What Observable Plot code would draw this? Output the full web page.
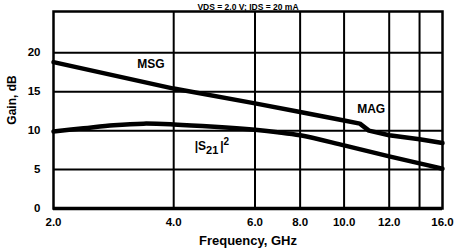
<!DOCTYPE html>
<html><head><meta charset="utf-8">
<script src="https://cdn.jsdelivr.net/npm/d3@7"></script>
<script src="https://cdn.jsdelivr.net/npm/@observablehq/plot@0.6"></script>
<style>
body{margin:0;background:#fff;}
#chart svg{display:block;}
</style>
</head><body><div id="chart"></div>
<script>
const subtitle = "VDS = 2.0 V; IDS = 20 mA";
const xLabel = "Frequency, GHz";
const yLabel = "Gain, dB";
const xTicks = [2, 4, 6, 8, 10, 12, 16];
const xGrid = [4, 6, 8, 10, 12, 14];
const xBreaks = [2, 4, 6, 8, 10, 12, 14, 16];
const xBreakFrac = [0, 0.309, 0.518, 0.634, 0.747, 0.863, 0.941, 1];
const yTicks = [0, 5, 10, 15, 20];
const yGrid = [5, 10, 15, 20];
const msgFreq = [2, 4, 6, 8, 10, 10.7, 11.1, 12, 14, 16];
const msgGain = [18.8, 15.4, 13.5, 12.4, 11.3, 10.9, 10.0, 9.4, 8.9, 8.4];
const s21Freq = [2, 2.5, 3, 3.5, 4, 5, 6, 7, 8, 10, 12, 14, 16];
const s21Gain = [9.9, 10.3, 10.7, 10.9, 10.8, 10.5, 10.1, 9.8, 9.4, 8.1, 6.7, 5.8, 5.1];
const labelText = ["MSG", "MAG", "|S21|2"];
const labelFreq = [3.62, 11.2, 4.94];
const labelGain = [18.5, 12.8, 7.95];

const W = 454, H = 251, mL = 53, mR = 12, mT = 11, mB = 43;
const msg = msgFreq.map((f, i) => ({f, g: msgGain[i]}));
const s21 = s21Freq.map((f, i) => ({f, g: s21Gain[i]}));
const labels = labelText.map((t, i) => ({t, f: labelFreq[i], g: labelGain[i]}));
const font = "'Liberation Sans', Arial, sans-serif";

const chart = Plot.plot({
  width: W, height: H,
  marginLeft: mL, marginRight: mR, marginTop: mT, marginBottom: mB,
  style: {fontFamily: font, background: "#fff", color: "#000"},
  x: {type: "linear", domain: xBreaks, range: xBreakFrac.map(p => mL + p * (W - mL - mR))},
  y: {domain: [0, 25.3]},
  marks: [
    Plot.ruleX(xGrid, {stroke: "#000", strokeWidth: 2}),
    Plot.ruleY(yGrid, {stroke: "#000", strokeWidth: 2}),
    Plot.frame({stroke: "#000", strokeWidth: 2.5}),
    Plot.ruleY([0], {stroke: "#000", strokeWidth: 3.5}),
    Plot.line(msg, {x: "f", y: "g", stroke: "#000", strokeWidth: 4.5}),
    Plot.line(s21, {x: "f", y: "g", stroke: "#000", strokeWidth: 4.5, curve: "catmull-rom"}),
    Plot.axisX(xTicks, {tickSize: 0, tickPadding: 9, tickFormat: d => d.toFixed(1), fontWeight: "bold", fontSize: 11.5, label: null}),
    Plot.axisY(yTicks, {tickSize: 0, tickPadding: 13, fontWeight: "bold", fontSize: 11.5, label: null}),
    Plot.text(labels, {x: "f", y: "g", text: "t", fontWeight: "bold", fontSize: 12}),
    Plot.text([xLabel], {frameAnchor: "bottom", dy: 36, fontWeight: "bold", fontSize: 13}),
    Plot.text([yLabel], {frameAnchor: "left", textAnchor: "middle", rotate: -90, dx: -41, dy: -10, fontWeight: "bold", fontSize: 12}),
    Plot.text([subtitle], {frameAnchor: "top", lineAnchor: "bottom", dy: -2, fontWeight: "bold", fontSize: 8.5})
  ]
});
document.getElementById("chart").append(chart);

d3.select(chart).selectAll("text").each(function() {
  const t = d3.select(this);
  if (this.textContent === "|S21|2") {
    t.text(null);
    t.append("tspan").text("|S");
    t.append("tspan").attr("dy", 4).attr("font-size", 11).text("21");
    t.append("tspan").attr("dy", -4).attr("dx", 2).text("|");
    t.append("tspan").attr("dy", -5).attr("font-size", 10).text("2");
  }
});
</script>
</body></html>
